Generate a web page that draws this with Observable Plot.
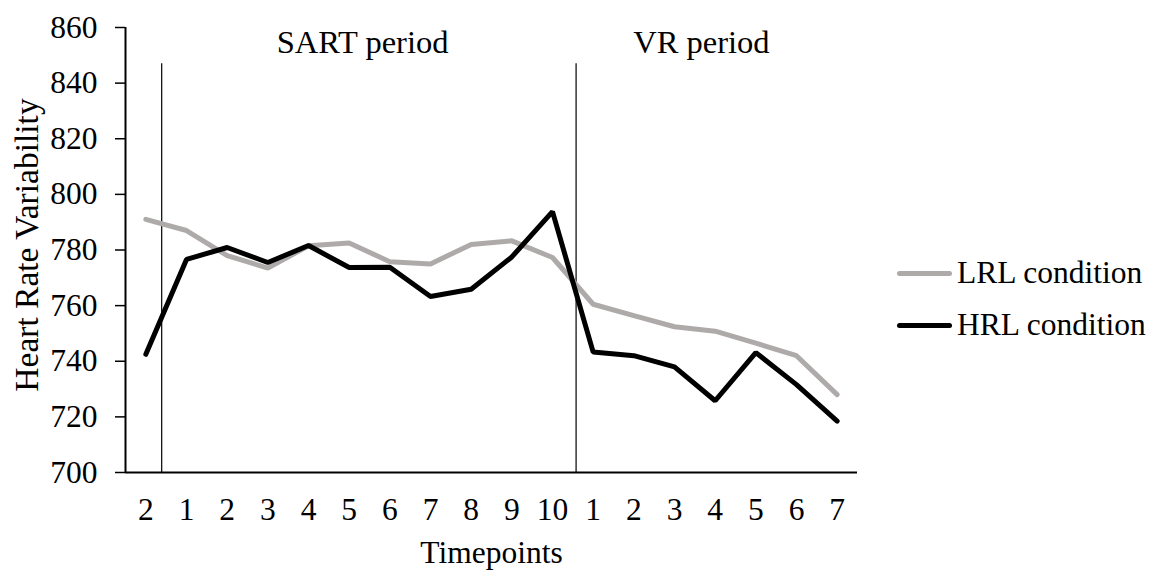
<!DOCTYPE html>
<html>
<head>
<meta charset="utf-8">
<script src="https://cdn.jsdelivr.net/npm/d3@7"></script>
<script src="https://cdn.jsdelivr.net/npm/@observablehq/plot@0.6"></script>
<style>
  html, body { margin: 0; padding: 0; background: #fff; }
  #wrap { position: relative; width: 1156px; height: 570px; font-family: "Liberation Serif", "Times New Roman", serif; }
  .leg { position: absolute; left: 897px; display: flex; align-items: center; font-size: 31.5px; color: #000; height: 40px; }
  .sw { width: 55px; height: 5px; border-radius: 3px; margin-right: 5px; }
</style>
</head>
<body>
<div id="wrap"></div>
<script>
// Tick labels along the x axis (timepoints, with repeats)
const tickLabels = ["2","1","2","3","4","5","6","7","8","9","10","1","2","3","4","5","6","7"];
// Series values
const lrl = [791, 787, 778, 773.5, 781.5, 782.5, 775.8, 775, 782, 783.3, 777.3, 760.5, 756.4, 752.4, 750.8, 746.5, 742, 728];
const hrl = [742.5, 776.6, 780.9, 775.5, 781.6, 773.7, 773.8, 763.3, 765.9, 777.5, 793.8, 743.3, 742, 738, 725.8, 743.1, 731.6, 718.5];
const seriesNames = ["LRL condition", "HRL condition"];
const seriesColors = ["#aeaaaa", "#000000"];
// Period separators and labels
const periodLabels = ["SART period", "VR period"];
const periodLabelX = [5.33, 13.66];
const periodLabelY = 854.5;
const separatorX = [0.39, 10.58];
const separatorTop = 847;
const yTicks = [700, 720, 740, 760, 780, 800, 820, 840, 860];
const yTitle = "Heart Rate Variability";
const xTitle = "Timepoints";

const rows = [];
[lrl, hrl].forEach((vals, s) => vals.forEach((v, i) => rows.push({series: seriesNames[s], i, v})));

const font = "Liberation Serif, Times New Roman, serif";

const chart = Plot.plot({
  width: 1156,
  height: 570,
  marginLeft: 125,
  marginRight: 299,
  marginTop: 27,
  marginBottom: 98,
  style: {fontFamily: font, fontSize: "31.5px", color: "#000", background: "#fff", overflow: "visible"},
  x: {type: "linear", domain: [-0.5, 17.5]},
  y: {domain: [700, 860]},
  color: {domain: seriesNames, range: seriesColors},
  marks: [
    Plot.axisY({ticks: yTicks, tickSize: 10, tickPadding: 18, strokeWidth: 1.5, label: null}),
    Plot.axisX({ticks: d3.range(tickLabels.length), tickFormat: i => tickLabels[i], tickSize: 0, tickPadding: 25, label: xTitle, labelAnchor: "center", labelOffset: 90, labelArrow: "none"}),
    Plot.text([yTitle], {frameAnchor: "left", textAnchor: "middle", lineAnchor: "middle", rotate: -90, dx: -98, dy: -5, fontSize: 33.5, fill: "#000"}),
    Plot.ruleX(separatorX, {y1: 700, y2: separatorTop, stroke: "#000", strokeWidth: 1.2}),
    Plot.ruleX([-0.5], {stroke: "#000", strokeWidth: 2}),
    Plot.ruleY([700], {stroke: "#000", strokeWidth: 2}),
    Plot.line(rows, {x: "i", y: "v", z: "series", stroke: "series", strokeWidth: 5, strokeLinejoin: "miter", strokeLinecap: "round"}),
    Plot.text(periodLabels, {x: (d, k) => periodLabelX[k], y: () => periodLabelY, text: d => d, fontSize: 32.5, fill: "#000"})
  ]
});

const wrap = document.getElementById("wrap");
wrap.appendChild(chart);
const legendY = [273, 325];
seriesNames.forEach((name, k) => {
  const row = document.createElement("div");
  row.className = "leg";
  row.style.top = (legendY[k] - 20) + "px";
  const sw = document.createElement("div");
  sw.className = "sw";
  sw.style.background = seriesColors[k];
  const t = document.createElement("span");
  t.textContent = name;
  row.appendChild(sw);
  row.appendChild(t);
  wrap.appendChild(row);
});
</script>
</body>
</html>
